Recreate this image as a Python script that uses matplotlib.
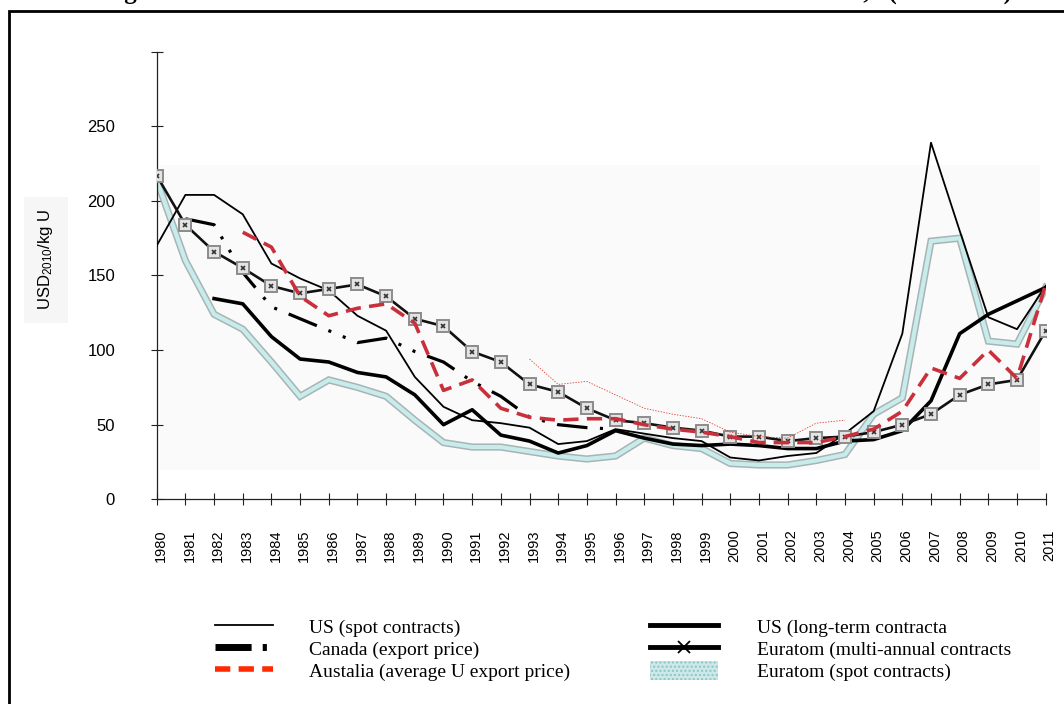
import numpy as np
import matplotlib.pyplot as plt
import matplotlib.transforms as mtransforms
from matplotlib.lines import Line2D
from matplotlib.patches import Patch, Rectangle

plt.rcParams['lines.scale_dashes'] = False
plt.rcParams['mathtext.default'] = 'regular'
plt.rcParams['font.family'] = ['Liberation Sans', 'DejaVu Sans']

nan = np.nan
years = np.arange(1980, 2012)

us_spot = [170, 204, 204, 191, 158, 148, 140, 123, 113, 82, 62, 53, 51, 48, 37, 39,
           47, 44, 41, 39, 28, 26, 29, 31, 44, 59, 111, 239, 180, 122, 114, 143]
us_longterm = [nan, nan, 134.5, 131, 109, 94, 92, 85, 82, 70, 50, 60, 43, 39, 31, 36,
               46, 41, 37, 36, 37, 36, 34, 34, 39, 40, 46, 66, 111, 124, 133, 142]
canada = [nan, 188, 184, 152, 129, 121, 113, 105, 108, 99, 92, 79, 69, 55, 50, 48,
          47] + [nan] * 15
australia = [nan, nan, nan, 179, 169, 136, 123, 128, 131, 118, 73, 80, 61, 55, 53, 54,
             54, 50, 47, 45, 42, 38, 38, 38, 42, 47, 59, 88, 81, 100, 81, 144]
euratom_multi = [217, 184, 166, 155, 143, 138, 141, 144, 136, 121, 116, 99, 92, 77, 72, 61,
                 53, 51, 48, 46, 42, 42, 39, 41, 42, 45, 50, 57, 70, 77, 80, 113]
euratom_spot = [214, 160, 124, 114, 92, 69, 80, 75, 69, 53, 38, 35, 35, 32, 29, 27,
                29, 41, 36, 34, 24, 23, 23, 26, 30, 57, 68, 173, 175, 106, 104, 142]
# thin red dotted trace (not in the legend)
red_dotted_years = np.arange(1993, 2005)
red_dotted = [94, 77, 79, 70, 61, 57, 54, 45, 42, 41, 51, 53]

y_ticks = [0, 50, 100, 150, 200, 250, 300]
y_ticklabels = ['0', '50', '100', '150', '200', '250', '']

fig = plt.figure(figsize=(10.64, 7.04), dpi=100)
ax = fig.add_axes([0.1473, 0.2908, 0.8355, 0.6358])
ax.set_facecolor('none')

# faint grey plot background
ax.add_patch(Rectangle((0.004, 0.065), 0.99, 0.682, transform=ax.transAxes,
                       color='#fafafa', zorder=0, lw=0))

ax.plot(years, euratom_spot, color='#a8b4b4', lw=5.2, solid_joinstyle='miter', zorder=2)
ax.plot(years, euratom_spot, color='#c8ecec', lw=3.0, solid_joinstyle='miter', zorder=2.1)
ax.plot(years, us_spot, color='black', lw=1.3, zorder=3)
ax.plot(years, us_longterm, color='black', lw=2.6, zorder=3)
ax.plot(years, canada, color='black', lw=2.3, dashes=(22, 9, 2.2, 9, 2.2, 9), zorder=3)
ax.plot(years, euratom_multi, color='#111111', lw=1.9, zorder=4)
ax.plot(years, euratom_multi, ls='none', marker='s', ms=8.5, mfc='#e4e4e4',
        mec='#8c8c8c', mew=1.4, zorder=4.1)
ax.plot(years, euratom_multi, ls='none', marker='x', ms=3.5, mew=1.2, color='#333333',
        zorder=4.2)
ax.plot(years, australia, color='#c9303c', lw=2.6, dashes=(11, 6), zorder=5)
ax.plot(red_dotted_years, red_dotted, color='#e04030', lw=0.6, ls=(0, (1, 1)), zorder=5)

ax.set_xlim(1980, 2011)
ax.set_ylim(0, 300)
ax.set_xticks(years)
ax.set_xticklabels([str(y) for y in years], rotation=90, fontsize=10.5)
ax.set_yticks(y_ticks)
ax.set_yticklabels(y_ticklabels, fontsize=12)
ax.tick_params(axis='x', direction='inout', length=9, width=0.8, color='#222222', pad=17)
ax.tick_params(axis='y', direction='inout', length=8, width=0.8, color='#222222', pad=26)
shift = mtransforms.ScaledTranslation(0.04, 0, fig.dpi_scale_trans)
for lab in ax.get_xticklabels():
    lab.set_transform(lab.get_transform() + shift)
for side in ['top', 'right']:
    ax.spines[side].set_visible(False)
for side in ['left', 'bottom']:
    ax.spines[side].set_color('#222222')
    ax.spines[side].set_linewidth(0.9)

ax.set_ylabel('USD$_{2010}$/kg U', fontsize=12,
              bbox=dict(facecolor='#f6f6f6', edgecolor='none', pad=9))
ax.yaxis.set_label_coords(-0.114, 0.535)

# legend, two columns
serif = 'Liberation Serif'
h_left = [Line2D([], [], color='black', lw=1.3),
          Line2D([], [], color='black', lw=5, dashes=(26, 8, 3, 40)),
          Line2D([], [], color='#ff2a00', lw=4, dashes=(11, 6))]
l_left = ['US (spot contracts)', 'Canada (export price)', 'Austalia (average U export price)']
h_right = [Line2D([], [], color='black', lw=3.5),
           Line2D([], [], color='black', lw=3.5, marker='x', ms=9, mew=1.3,
                  markerfacecolor='white'),
           Patch(facecolor='#cde8e8', edgecolor='#8cc4c4', hatch='....', lw=0)]
l_right = ['US (long-term contracta', 'Euratom (multi-annual contracts', 'Euratom (spot contracts)']

fig.legend(h_left, l_left, loc='upper left', bbox_to_anchor=(0.202, 0.1235),
           frameon=False, prop={'family': serif, 'size': 14},
           handlelength=3.0, handletextpad=1.85, labelspacing=0.1,
           handleheight=1.1, borderpad=0, borderaxespad=0)
fig.legend(h_right, l_right, loc='upper left', bbox_to_anchor=(0.611, 0.1235),
           frameon=False, prop={'family': serif, 'size': 14},
           handlelength=3.5, handletextpad=2.0, labelspacing=0.1,
           handleheight=1.1, borderpad=0, borderaxespad=0)

# outer frame
fig.add_artist(Rectangle((0.0085, -0.2), 1.2, 1.184, transform=fig.transFigure,
                         fill=False, ec='black', lw=2.0))

# title, cut off at the top of the image
fig.text(0.096, 1.002, 'Figure 1.  Natural uranium market trends', family=serif,
         weight='bold', fontsize=18, va='baseline', ha='left')
fig.text(0.9515, 1.002, 'in the US and EU,   (1980-2011)', family=serif,
         weight='bold', fontsize=18, va='baseline', ha='right')

fig.savefig('out.png', dpi=100)
